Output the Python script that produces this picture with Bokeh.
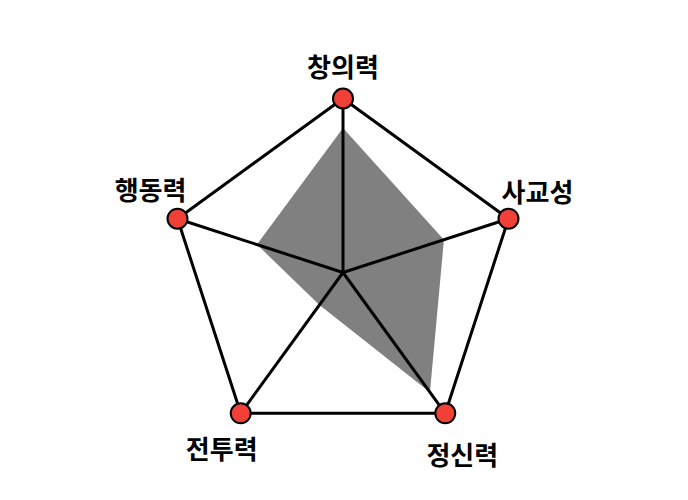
import numpy as np
from bokeh.plotting import figure
from bokeh.models import ColumnDataSource, Range1d
from bokeh.core.properties import value
from bokeh.embed import file_html
from bokeh.resources import INLINE

categories = ["창의력", "사교성", "정신력", "전투력", "행동력"]
scores = [0.83, 0.61, 0.85, 0.23, 0.52]
max_score = 1.0

n = len(categories)
angles = np.pi / 2 - 2 * np.pi * np.arange(n) / n
ox = max_score * np.cos(angles)
oy = max_score * np.sin(angles)
sx = np.array(scores) * np.cos(angles)
sy = np.array(scores) * np.sin(angles)

scale = 174.0
cx, cy = 342.5, 272.0
W, H = 672, 484
p = figure(width=W, height=H, output_backend="svg", toolbar_location=None,
           x_range=Range1d(-cx / scale, (W - cx) / scale),
           y_range=Range1d(-(H - cy) / scale, cy / scale),
           min_border=0)
p.axis.visible = False
p.grid.visible = False
p.outline_line_color = None
p.background_fill_color = "white"

p.patch(list(sx), list(sy), fill_color="#808080", line_color=None)

for i in range(n):
    p.line([0, ox[i]], [0, oy[i]], line_color="black", line_width=3)

p.line(list(ox) + [ox[0]], list(oy) + [oy[0]], line_color="black", line_width=3)

p.scatter(list(ox), list(oy), size=20, fill_color="#f04037", line_color="black", line_width=2)

x_off = [0, 29, 17, -19, -27]
y_off = [-33, -28, 40, 34, -30]
src = ColumnDataSource(dict(x=list(ox), y=list(oy), t=categories, xo=x_off, yo=y_off))
p.text(x="x", y="y", text="t", x_offset="xo", y_offset="yo", source=src,
       text_font=value("Noto Sans CJK KR"), text_font_style="bold",
       text_font_size="26px", text_align="center", text_baseline="middle",
       text_color="black")

open("out.html", "w").write(file_html(p, INLINE))
